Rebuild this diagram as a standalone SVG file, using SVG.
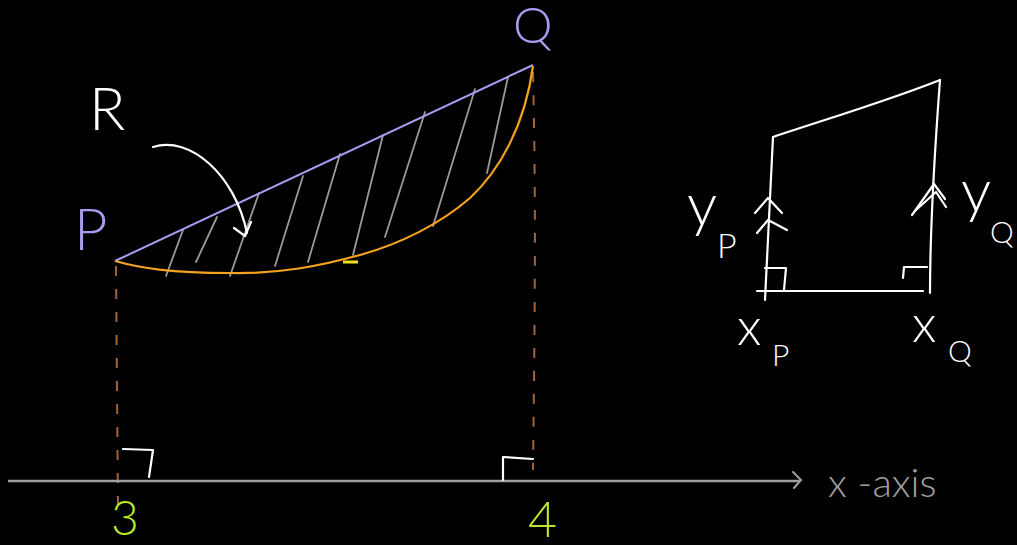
<svg xmlns="http://www.w3.org/2000/svg" width="1017" height="545" viewBox="0 0 1017 545">
<style>
text{font-family:Lato,"Liberation Sans",sans-serif;font-weight:300}
.w{fill:#ffffff}
.lav{fill:#a99cf0}
.grn{fill:#b8e62a}
.ws{fill:none;stroke:#ffffff;stroke-width:2.2;stroke-linecap:round;stroke-linejoin:round}
.hatch{fill:none;stroke:#9a9a9a;stroke-width:1.8;stroke-linecap:round}
.brown{fill:none;stroke:#a0643a;stroke-width:2;stroke-dasharray:10 13}
</style>
<rect width="1017" height="545" fill="#000000"/>

<g id="drop-lines">
  <path class="brown" d="M116,266 L118,512"/>
  <path class="brown" d="M533,72 C536,200 535,300 533,470"/>
</g>

<g id="axis">
  <path d="M8,481 L800,481" stroke="#a0a0a0" stroke-width="2.5" fill="none"/>
  <path d="M793,472 L801,480 L794,488" stroke="#a0a0a0" stroke-width="2" fill="none" stroke-linecap="round"/>
  <text x="828" y="497" font-size="40" fill="#a0a0a0">x -axis</text>
  <path class="ws" d="M123,449 L153,450 L149,477"/>
  <path class="ws" d="M503,480 L503,457 L533,459"/>
  <text class="grn" x="111" y="535" font-size="48">3</text>
  <text class="grn" x="528" y="537" font-size="50">4</text>
</g>

<g id="hatching">
  <path class="hatch" d="M183,230 L166,276"/>
  <path class="hatch" d="M217,217 L196,262"/>
  <path class="hatch" d="M259,193 L230,276"/>
  <path class="hatch" d="M303,176 L275,266"/>
  <path class="hatch" d="M340,154 L308,262"/>
  <path class="hatch" d="M383,135 L353,255"/>
  <path class="hatch" d="M425,112 L385,237"/>
  <path class="hatch" d="M475,89 L433,226"/>
  <path class="hatch" d="M508,77 L487,173"/>
</g>

<g id="connectors">
  <path id="chord-PQ" d="M115,261 L533,65" stroke="#a99cf0" stroke-width="2" fill="none"/>
  <path id="curve-PQ" d="M115,261 C140,268 170,273 230,273 C280,274 320,266 360,255 C400,244 440,224 470,198 C500,170 525,125 533,66" stroke="#f5a21e" stroke-width="2.2" fill="none"/>
  <path id="arrow-R" class="ws" d="M153,147 C190,135 235,175 247,233"/>
  <path class="ws" d="M234,228 L245,236 L251,222"/>
</g>

<path d="M343,262 L358,262" stroke="#f0e020" stroke-width="3"/>

<g id="node-P"><text class="lav" x="74" y="250" font-size="58">P</text></g>
<g id="node-Q"><text class="lav" x="513" y="43" font-size="50">Q</text></g>
<g id="node-R"><text class="w" x="89" y="130" font-size="60">R</text></g>

<g id="trapezium">
  <path class="ws" d="M773,137 L765,300"/>
  <path class="ws" d="M773,137 C830,118 890,100 940,80"/>
  <path class="ws" d="M940,80 C934,160 930,230 930,293"/>
  <path class="ws" d="M757,291 L923,291"/>
  <path class="ws" d="M765,268 L786,268 L784,290"/>
  <path class="ws" d="M903,278 L904,267 L927,267"/>
  <path class="ws" d="M755,213 L768,198 L782,213"/>
  <path class="ws" d="M757,233 L768,220 L787,230"/>
  <path class="ws" d="M912,215 L934,184 L945,199"/>
  <path class="ws" d="M916,210 L936,192 L946,207"/>
  <text class="w" x="687" y="226" font-size="60">y</text>
  <text class="w" x="717" y="258" font-size="34">P</text>
  <text class="w" x="961" y="212" font-size="60">y</text>
  <text class="w" x="990" y="243" font-size="30">Q</text>
  <text class="w" x="737" y="345" font-size="52">x</text>
  <text class="w" x="772" y="366" font-size="30">P</text>
  <text class="w" x="912" y="342" font-size="52">x</text>
  <text class="w" x="948" y="362" font-size="30">Q</text>
</g>
</svg>
